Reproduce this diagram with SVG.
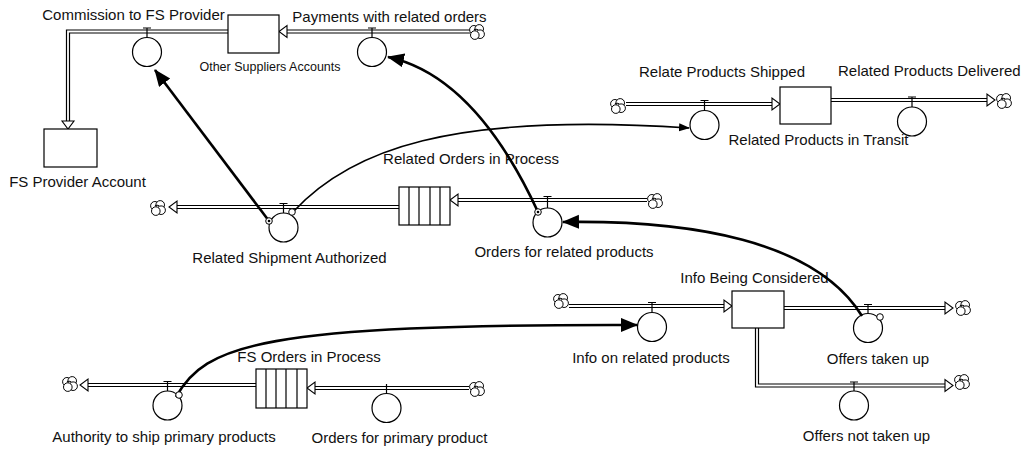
<svg xmlns="http://www.w3.org/2000/svg" xmlns:xlink="http://www.w3.org/1999/xlink" width="1021" height="449" viewBox="0 0 1021 449">
<style>
text{font-family:"Liberation Sans",Arial,sans-serif;font-size:15px;fill:#111;text-anchor:middle}
text.s{font-size:12.5px}
.box{fill:#fff;stroke:#000;stroke-width:1.2}
.valve{fill:#fff;stroke:#000;stroke-width:1.2}
.tee{fill:none;stroke:#000;stroke-width:1.2}
.po{fill:none;stroke:#000;stroke-width:4.2;stroke-linejoin:miter}
.pi{fill:none;stroke:#fff;stroke-width:1.8;stroke-linejoin:miter}
.ph{fill:#fff;stroke:#000;stroke-width:1.1}
.lk{fill:none;stroke:#000;stroke-width:2.6}
.lt{fill:none;stroke:#000;stroke-width:1.6}
.hd{fill:#fff;stroke:#000;stroke-width:1}
.cl{fill:#fff;stroke:#000;stroke-width:1}
</style>
<defs>
<g id="cloud">
<circle class="cl" cx="-3.1" cy="-2.2" r="4.3"/>
<circle class="cl" cx="2.2" cy="-3.1" r="4.3"/>
<circle class="cl" cx="3.1" cy="2.2" r="4.3"/>
<circle class="cl" cx="-2.2" cy="3.1" r="4.3"/>
<path d="M-3.1,-2.2 A4.3,4.3 0 0 1 1.2,-2.2" fill="none" stroke="#000" stroke-width="1"/>
</g>
<marker id="ah" markerUnits="userSpaceOnUse" markerWidth="20" markerHeight="16" refX="16" refY="7" orient="auto"><path d="M0,0 L17,7 L0,14 z" fill="#000"/></marker>
<marker id="as" markerUnits="userSpaceOnUse" markerWidth="12" markerHeight="10" refX="10" refY="4" orient="auto"><path d="M0,0 L11,4 L0,8 z" fill="#000"/></marker>
</defs>

<g id="pipes">
<polyline class="po" points="228,31.5 68,31.5 68,121"/><polyline class="pi" points="228,31.5 68,31.5 68,121"/>
<path class="ph" d="M62,121 L74,121 L68,129 z"/>
<path class="po" d="M470,31.5 H287"/><path class="pi" d="M470,31.5 H287"/>
<path class="ph" d="M287,25.5 L287,37.5 L279,31.5 z"/>
<path class="po" d="M626,104 H772"/><path class="pi" d="M626,104 H772"/>
<path class="ph" d="M772,98 L772,110 L780,104 z"/>
<path class="po" d="M831,100 H987"/><path class="pi" d="M831,100 H987"/>
<path class="ph" d="M987,94 L987,106 L995,100 z"/>
<path class="po" d="M399,207 H177"/><path class="pi" d="M399,207 H177"/>
<path class="ph" d="M177,201 L177,213 L169,207 z"/>
<path class="po" d="M647,200 H458"/><path class="pi" d="M647,200 H458"/>
<path class="ph" d="M458,194 L458,206 L450,200 z"/>
<path class="po" d="M569,306 H724"/><path class="pi" d="M569,306 H724"/>
<path class="ph" d="M724,300 L724,312 L732,306 z"/>
<path class="po" d="M784,308 H945"/><path class="pi" d="M784,308 H945"/>
<path class="ph" d="M945,302 L945,314 L953,308 z"/>
<polyline class="po" points="757,328 757,385.5 945,385.5"/><polyline class="pi" points="757,328 757,385.5 945,385.5"/>
<path class="ph" d="M945,379.5 L945,391.5 L953,385.5 z"/>
<path class="po" d="M256,385 H88"/><path class="pi" d="M256,385 H88"/>
<path class="ph" d="M88,379 L88,391 L80,385 z"/>
<path class="po" d="M469,388 H315"/><path class="pi" d="M469,388 H315"/>
<path class="ph" d="M315,382 L315,394 L307,388 z"/>
</g>

<g id="clouds">
<use xlink:href="#cloud" x="477" y="32"/>
<use xlink:href="#cloud" x="618" y="106"/>
<use xlink:href="#cloud" x="1004" y="101"/>
<use xlink:href="#cloud" x="158" y="208"/>
<use xlink:href="#cloud" x="655" y="201"/>
<use xlink:href="#cloud" x="561" y="301"/>
<use xlink:href="#cloud" x="963" y="308"/>
<use xlink:href="#cloud" x="962" y="382"/>
<use xlink:href="#cloud" x="70" y="384"/>
<use xlink:href="#cloud" x="477" y="389"/>
</g>

<g id="other-suppliers-accounts">
<rect class="box" x="228" y="15" width="51" height="38"/>
<text class="s" x="270" y="71">Other Suppliers Accounts</text>
</g>
<g id="fs-provider-account">
<rect class="box" x="44" y="129" width="53" height="38"/>
<text x="77.5" y="187">FS Provider Account</text>
</g>
<g id="related-products-in-transit">
<rect class="box" x="780" y="87" width="51" height="37"/>
<text x="818.5" y="145">Related Products in Transit</text>
</g>
<g id="info-being-considered">
<rect class="box" x="732" y="291" width="52" height="37"/>
<text x="754.5" y="283">Info Being Considered</text>
</g>
<g id="related-orders-in-process">
<rect class="box" x="399" y="187" width="51" height="38"/>
<path class="tee" d="M409,187V225M419,187V225M430,187V225M440,187V225"/>
<text x="471" y="164">Related Orders in Process</text>
</g>
<g id="fs-orders-in-process">
<rect class="box" x="256" y="369" width="51" height="39"/>
<path class="tee" d="M266,369V408M276,369V408M286,369V408M297,369V408"/>
<text x="309" y="362">FS Orders in Process</text>
</g>

<g id="commission-to-fs-provider">
<path class="tee" d="M147,37.5V28M143,28H151"/>
<circle class="valve" cx="147" cy="52" r="14.5"/>
<text x="133.5" y="20">Commission to FS Provider</text>
</g>
<g id="payments-with-related-orders">
<path class="tee" d="M372,37.5V28M368,28H376"/>
<circle class="valve" cx="372" cy="52" r="14.5"/>
<text x="389.5" y="22">Payments with related orders</text>
</g>
<g id="relate-products-shipped">
<path class="tee" d="M704.5,110.5V100.5M700.5,100.5H708.5"/>
<circle class="valve" cx="704.5" cy="125" r="14.5"/>
<text x="722" y="77">Relate Products Shipped</text>
</g>
<g id="related-products-delivered">
<path class="tee" d="M912,107V97M908,97H916"/>
<circle class="valve" cx="912" cy="121.5" r="14.5"/>
<text x="838" y="76" style="text-anchor:start">Related Products Delivered</text>
</g>
<g id="related-shipment-authorized">
<path class="tee" d="M283.5,213V203.5M279.5,203.5H287.5"/>
<circle class="valve" cx="283.5" cy="227.5" r="14.5"/>
<text x="289.5" y="263">Related Shipment Authorized</text>
</g>
<g id="orders-for-related-products">
<path class="tee" d="M547.5,208V196.5M543.5,196.5H551.5"/>
<circle class="valve" cx="547.5" cy="222.5" r="14.5"/>
<text x="564" y="257">Orders for related products</text>
</g>
<g id="info-on-related-products">
<path class="tee" d="M652,312.5V302.5M648,302.5H656"/>
<circle class="valve" cx="652" cy="327" r="14.5"/>
<text x="651" y="363">Info on related products</text>
</g>
<g id="offers-taken-up">
<path class="tee" d="M868,313.5V304.5M864,304.5H872"/>
<circle class="valve" cx="868" cy="328" r="14.5"/>
<text x="878" y="364">Offers taken up</text>
</g>
<g id="offers-not-taken-up">
<path class="tee" d="M854,391V382M850,382H858"/>
<circle class="valve" cx="854" cy="405.5" r="14.5"/>
<text x="866.5" y="441">Offers not taken up</text>
</g>
<g id="authority-to-ship-primary-products">
<path class="tee" d="M167.5,391V381.5M163.5,381.5H171.5"/>
<circle class="valve" cx="167.5" cy="405.5" r="14.5"/>
<text x="164" y="442">Authority to ship primary products</text>
</g>
<g id="orders-for-primary-product">
<path class="tee" d="M386.5,393.5V384"/>
<circle class="valve" cx="386.5" cy="408" r="14.5"/>
<text x="399.5" y="443">Orders for primary product</text>
</g>

<g id="connectors">
<path class="lk" d="M269,221 L155,70" marker-end="url(#ah)"/>
<path class="lt" d="M293,212 C350,150 450,112 689,128" marker-end="url(#as)"/>
<path class="lk" d="M538,212 Q475,76 388,57" marker-end="url(#ah)"/>
<path class="lk" d="M862,316 C815,240 690,220 563,222" marker-end="url(#ah)"/>
<path class="lk" d="M176,397 C205,345 260,324 637,325" marker-end="url(#ah)"/>
<circle class="hd" cx="269" cy="221" r="3.3"/>
<circle cx="269" cy="221" r="1.3" fill="#000"/>
<circle class="hd" cx="292" cy="212" r="3.3"/>
<circle class="hd" cx="538" cy="212" r="3.3"/>
<circle cx="538" cy="212" r="1.3" fill="#000"/>
<circle class="hd" cx="880" cy="317" r="3.3"/>
<circle class="hd" cx="179" cy="395" r="3.3"/>
</g>
</svg>
